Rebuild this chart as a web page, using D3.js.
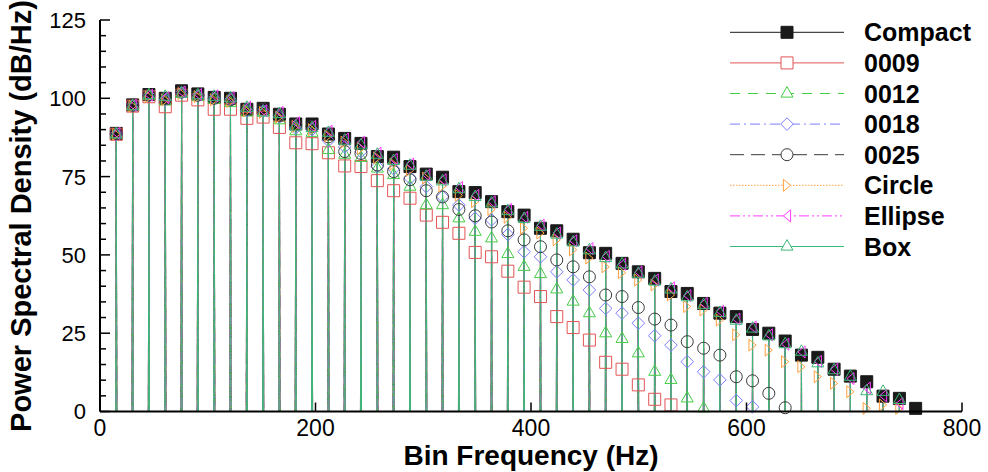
<!DOCTYPE html>
<html>
<head>
<meta charset="utf-8">
<script src="https://cdn.jsdelivr.net/npm/d3@7"></script>
<style>
  body { margin: 0; background: #fff; }
  svg { display: block; }
  text { font-family: "Liberation Sans", Arial, sans-serif; }
</style>
</head>
<body>
<div id="chart"></div>
<script>
// Peak frequencies (Hz) of the tonal bins
const freqs = [15.1, 30.3, 45.4, 60.6, 75.7, 90.8, 106.0, 121.1, 136.3, 151.4,
  166.5, 181.7, 196.8, 212.0, 227.1, 242.2, 257.4, 272.5, 287.7, 302.8,
  317.9, 333.1, 348.2, 363.4, 378.5, 393.6, 408.8, 423.9, 439.1, 454.2,
  469.3, 484.5, 499.6, 514.8, 529.9, 545.0, 560.2, 575.3, 590.5, 605.6,
  620.7, 635.9, 651.0, 666.2, 681.3, 696.4, 711.6, 726.7, 741.9, 757.0];

// Peak PSD values (dB/Hz) per case
const compact = [88.8, 97.9, 101.2, 100.0, 102.4, 101.4, 100.3, 100.0, 96.5, 96.8,
  94.9, 91.8, 91.8, 88.6, 87.2, 85.6, 81.4, 81.2, 78.2, 75.8,
  74.8, 70.2, 69.9, 67.0, 63.8, 62.7, 58.5, 57.7, 55.0, 50.7,
  50.5, 47.3, 44.6, 42.5, 38.3, 37.7, 34.5, 31.4, 30.3, 26.2,
  25.0, 22.5, 18.0, 17.3, 13.5, 11.3, 9.5, 4.9, 4.2, 1.0];
const c0009 = [88.5, 97.5, 100.5, 97.3, 101.0, 99.5, 96.5, 96.5, 93.6, 94.0,
  90.7, 85.8, 85.5, 82.6, 78.4, 78.2, 73.7, 70.5, 68.1, 62.7,
  60.4, 56.9, 50.8, 49.4, 44.8, 39.7, 36.7, 30.3, 26.8, 22.8,
  15.7, 13.5, 8.5, 3.9, 2.1];
const c0012 = [88.5, 97.5, 100.8, 99.0, 101.5, 100.5, 99.5, 98.5, 95.5, 95.5,
  93.0, 89.5, 89.0, 83.5, 82.0, 81.0, 77.6, 75.5, 71.8, 65.9,
  65.9, 61.7, 57.4, 55.3, 50.3, 46.2, 43.9, 39.0, 35.1, 31.4,
  25.0, 23.2, 18.6, 12.7, 10.1, 4.2, 1.0];
const c0018 = [88.5, 97.8, 101.0, 99.5, 101.8, 100.8, 100.0, 99.5, 96.0, 96.0,
  94.0, 90.5, 90.0, 86.5, 84.5, 83.0, 78.2, 77.5, 74.5, 71.8,
  68.6, 65.9, 61.7, 61.2, 56.5, 51.0, 49.4, 44.6, 42.0, 38.8,
  32.9, 31.4, 28.2, 24.2, 21.2, 15.9, 12.7, 10.1, 3.5, 1.5];
const c0025 = [88.8, 97.8, 101.0, 100.0, 102.0, 101.0, 100.0, 99.5, 96.5, 96.5,
  94.5, 91.5, 91.0, 87.7, 83.0, 82.4, 78.7, 76.6, 74.0, 70.5,
  68.5, 64.5, 62.5, 60.5, 57.7, 54.8, 52.6, 48.4, 46.2, 43.0,
  37.2, 36.7, 33.2, 29.5, 27.6, 22.3, 20.2, 18.0, 11.1, 9.8,
  5.8, 1.2];
const circle = [88.5, 97.5, 100.5, 99.5, 101.5, 100.5, 99.5, 99.0, 96.0, 95.5,
  94.0, 91.0, 90.0, 88.0, 86.0, 84.0, 81.0, 79.0, 77.0, 74.5,
  72.0, 69.0, 67.0, 64.5, 62.0, 58.5, 57.0, 54.8, 51.6, 49.0,
  46.2, 44.3, 42.0, 40.4, 37.2, 33.5, 32.4, 29.2, 24.5, 21.2,
  19.6, 15.9, 14.3, 11.1, 9.0, 6.3, 1.0, 2.1, 1.0];
const ellipse = [88.8, 97.8, 101.0, 100.2, 102.0, 101.2, 100.8, 100.2, 97.2, 96.0,
  95.5, 92.2, 91.0, 89.5, 87.0, 86.0, 82.5, 80.5, 79.0, 75.5,
  74.0, 71.5, 69.0, 67.0, 64.5, 62.0, 59.5, 57.0, 54.5, 52.0,
  49.5, 47.0, 44.5, 42.0, 39.5, 37.0, 34.5, 32.0, 29.5, 27.0,
  24.5, 21.5, 19.0, 16.0, 13.5, 10.5, 7.5, 5.0, 2.5];
const box = [88.5, 97.5, 101.0, 100.5, 101.5, 101.0, 100.5, 100.0, 97.0, 95.5,
  95.0, 91.0, 90.5, 89.0, 86.5, 85.0, 82.0, 80.0, 78.5, 75.0,
  73.5, 71.0, 68.5, 66.5, 64.0, 61.5, 59.0, 56.5, 54.0, 51.5,
  49.0, 47.0, 44.0, 41.5, 39.0, 36.5, 34.0, 31.5, 29.0, 26.5,
  24.0, 21.5, 19.1, 15.4, 13.2, 11.1, 6.5, 6.3, 3.7];

const xTicks = [0, 200, 400, 600, 800];
const yTicks = [0, 25, 50, 75, 100, 125];

const series = [
  { name: "Compact", values: compact, color: "#1a1a1a", dash: null, marker: "square", fill: true },
  { name: "0009", values: c0009, color: "#e25555", dash: null, marker: "square" },
  { name: "0012", values: c0012, color: "#46cc46", dash: "10,8", marker: "triangleUp" },
  { name: "0018", values: c0018, color: "#7d7dff", dash: "10,4,2,4", marker: "diamond" },
  { name: "0025", values: c0025, color: "#3a3a3a", dash: "14,7", marker: "circle" },
  { name: "Circle", values: circle, color: "#ffa040", dash: "1.5,1.5", marker: "triangleRight" },
  { name: "Ellipse", values: ellipse, color: "#ff3cff", dash: "10,3,2,3,2,3", marker: "triangleLeft" },
  { name: "Box", values: box, color: "#3cb878", dash: null, marker: "triangleUp" }
];

const W = 988, H = 472;
const plot = { left: 100, right: 962, top: 20, bottom: 411.5 };

const svg = d3.select("#chart").append("svg")
    .attr("width", W)
    .attr("height", H);

const x = d3.scaleLinear().domain([0, 800]).range([plot.left, plot.right]);
const y = d3.scaleLinear().domain([0, 125]).range([plot.bottom, plot.top]);

svg.append("clipPath").attr("id", "clip")
  .append("rect")
    .attr("x", plot.left)
    .attr("y", plot.top)
    .attr("width", plot.right - plot.left)
    .attr("height", plot.bottom - plot.top);

// marker shapes, centred at 0,0
const ms = 6;
function markerPath(type) {
  switch (type) {
    case "square": return `M${-ms},${-ms}H${ms}V${ms}H${-ms}Z`;
    case "triangleUp": return `M0,${-ms * 1.15}L${ms},${ms * 0.6}L${-ms},${ms * 0.6}Z`;
    case "triangleRight": return `M${ms * 0.6},0L${-ms * 0.6},${-ms}L${-ms * 0.6},${ms}Z`;
    case "triangleLeft": return `M${-ms * 0.6},0L${ms * 0.6},${-ms}L${ms * 0.6},${ms}Z`;
    case "diamond": return `M0,${-ms * 1.05}L${ms * 1.05},0L0,${ms * 1.05}L${-ms * 1.05},0Z`;
    case "circle": return d3.symbol(d3.symbolCircle, Math.PI * ms * ms)();
  }
}

// each bin is a narrow spike that drops below the axis floor
const floorDb = -80, halfWidth = 0.9;
const line = d3.line().x(d => x(d[0])).y(d => y(d[1]));

const lines = svg.append("g").attr("clip-path", "url(#clip)");
series.forEach(s => {
  const pts = [[0, floorDb]];
  s.values.forEach((v, i) => {
    pts.push([freqs[i] - halfWidth, floorDb]);
    pts.push([freqs[i], v]);
    pts.push([freqs[i] + halfWidth, floorDb]);
  });
  pts.push([800, floorDb]);
  lines.append("path")
      .datum(pts)
      .attr("d", line)
      .attr("fill", "none")
      .attr("stroke", s.color)
      .attr("stroke-width", 1)
      .attr("stroke-dasharray", s.dash);
});

const marks = svg.append("g");
series.forEach(s => {
  marks.selectAll(null)
      .data(s.values)
    .enter().append("path")
      .attr("transform", (v, i) => `translate(${x(freqs[i])},${y(v)})`)
      .attr("d", markerPath(s.marker))
      .attr("fill", s.fill ? s.color : "none")
      .attr("stroke", s.color)
      .attr("stroke-width", 1);
});

// axes
const axes = svg.append("g").attr("stroke", "#000");
axes.append("line")
    .attr("x1", plot.left).attr("x2", plot.left)
    .attr("y1", plot.top).attr("y2", plot.bottom)
    .attr("stroke-width", 2);
axes.append("line")
    .attr("x1", plot.left).attr("x2", plot.right)
    .attr("y1", plot.bottom).attr("y2", plot.bottom)
    .attr("stroke-width", 2);

d3.range(0, 126, 5).forEach(v => {
  const major = v % 25 === 0;
  axes.append("line")
      .attr("x1", plot.left).attr("x2", plot.left + (major ? 10 : 6))
      .attr("y1", y(v)).attr("y2", y(v))
      .attr("stroke-width", 1.5);
});
xTicks.forEach(v => {
  axes.append("line")
      .attr("x1", x(v)).attr("x2", x(v))
      .attr("y1", plot.bottom).attr("y2", plot.bottom - 9)
      .attr("stroke-width", 1.5);
});

svg.append("g").selectAll("text")
    .data(yTicks)
  .enter().append("text")
    .attr("x", 86)
    .attr("y", d => y(d))
    .attr("dy", "0.36em")
    .attr("text-anchor", "end")
    .style("font-size", "22px")
    .text(d => d);

svg.append("g").selectAll("text")
    .data(xTicks)
  .enter().append("text")
    .attr("x", d => x(d))
    .attr("y", 436)
    .attr("text-anchor", "middle")
    .style("font-size", "23px")
    .text(d => d);

svg.append("text")
    .attr("x", 531)
    .attr("y", 465)
    .attr("text-anchor", "middle")
    .style("font-size", "28px")
    .style("font-weight", "bold")
    .text("Bin Frequency (Hz)");

svg.append("text")
    .attr("transform", "rotate(-90)")
    .attr("x", -216)
    .attr("y", 31)
    .attr("text-anchor", "middle")
    .style("font-size", "29px")
    .style("font-weight", "bold")
    .text("Power Spectral Density (dB/Hz)");

// legend
const legend = svg.append("g").selectAll("g")
    .data(series)
  .enter().append("g")
    .attr("transform", (d, i) => `translate(0,${32.3 + i * 30.6})`);

legend.append("line")
    .attr("x1", 730).attr("x2", 844)
    .attr("stroke", d => d.color)
    .attr("stroke-width", 1)
    .attr("stroke-dasharray", d => d.dash);

legend.append("path")
    .attr("transform", "translate(787,0)")
    .attr("d", d => markerPath(d.marker))
    .attr("fill", d => d.fill ? d.color : "#fff")
    .attr("stroke", d => d.color);

legend.append("text")
    .attr("x", 864)
    .attr("dy", "0.36em")
    .style("font-size", "25px")
    .style("font-weight", "bold")
    .text(d => d.name);
</script>
</body>
</html>
